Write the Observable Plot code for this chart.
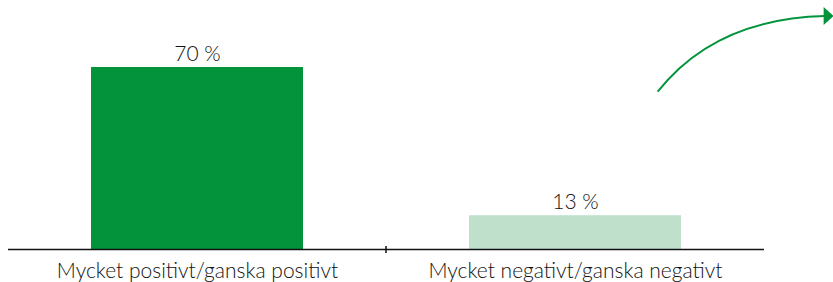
<!DOCTYPE html>
<html>
<head>
<meta charset="utf-8">
<script src="https://cdn.jsdelivr.net/npm/d3@7"></script>
<script src="https://cdn.jsdelivr.net/npm/@observablehq/plot@0.6"></script>
<style>
  html, body { margin: 0; padding: 0; background: #fff; }
  #chart svg { display: block; font-family: Lato, "Open Sans", sans-serif; }
</style>
</head>
<body>
<div id="chart"></div>
<script>
const categories = ["Mycket positivt/ganska positivt", "Mycket negativt/ganska negativt"];
const values = [70, 13];
const valueLabels = ["70 %", "13 %"];
const barColors = ["#03943b", "#bfe1cc"];
// Decorative arrow annotation: start/end relative to second band (fraction of band) and y in percent units
const arrowStart = {band: 1, frac: 0.89, y: 60.5};
const arrowControl = {band: 1, frac: 1.16, y: 88.5};
const arrowEnd = {band: 1, frac: 1.72, y: 89.6};

const data = categories.map((c, i) => ({category: c, value: values[i], label: valueLabels[i], color: barColors[i]}));
const ink = "#111";

const chart = Plot.plot({
  width: 833,
  height: 282,
  marginLeft: 8,
  marginRight: 69,
  marginTop: 41,
  marginBottom: 33,
  style: {fontFamily: "Lato, 'Open Sans', sans-serif", background: "#fff"},
  x: {domain: categories, paddingInner: 0.44, paddingOuter: 0.22, label: null},
  y: {domain: [0, 80], axis: null},
  marks: [
    Plot.barY(data, {x: "category", y: "value", fill: "color"}),
    Plot.text(data, {x: "category", y: "value", text: "label", lineAnchor: "bottom", dy: -7, fontSize: 21, fill: ink, fontWeight: 300}),
    Plot.ruleY([0], {stroke: ink, strokeWidth: 1.6}),
    Plot.axisX({tickSize: 0, tickPadding: 14, fontSize: 21, fill: ink, fontWeight: 300}),
    // tick mark between the two bands
    (index, scales, values, dims) => {
      const x = scales.x, bw = x.bandwidth();
      const xm = (x(categories[0]) + bw + x(categories[1])) / 2;
      const y0 = scales.y(0);
      const g = d3.create("svg:g");
      g.append("line").attr("x1", xm).attr("x2", xm).attr("y1", y0 - 3).attr("y2", y0 + 4)
        .attr("stroke", ink).attr("stroke-width", 1.5);
      return g.node();
    },
    // decorative curved arrow
    (index, scales, values, dims) => {
      const x = scales.x, y = scales.y, bw = x.bandwidth();
      const px = p => x(categories[p.band]) + bw * p.frac;
      const x0 = px(arrowStart), y0 = y(arrowStart.y);
      const cx = px(arrowControl), cy = y(arrowControl.y);
      const x1 = px(arrowEnd), y1 = y(arrowEnd.y);
      const head = 9;
      const g = d3.create("svg:g");
      g.append("path")
        .attr("d", `M${x0},${y0}Q${cx},${cy} ${x1 - head},${y1}`)
        .attr("fill", "none").attr("stroke", "#03943b").attr("stroke-width", 2);
      g.append("path")
        .attr("d", `M${x1 - head - 1},${y1 - 9}L${x1},${y1}L${x1 - head - 1},${y1 + 9}Z`)
        .attr("fill", "#03943b");
      return g.node();
    }
  ]
});
document.getElementById("chart").append(chart);
</script>
</body>
</html>
